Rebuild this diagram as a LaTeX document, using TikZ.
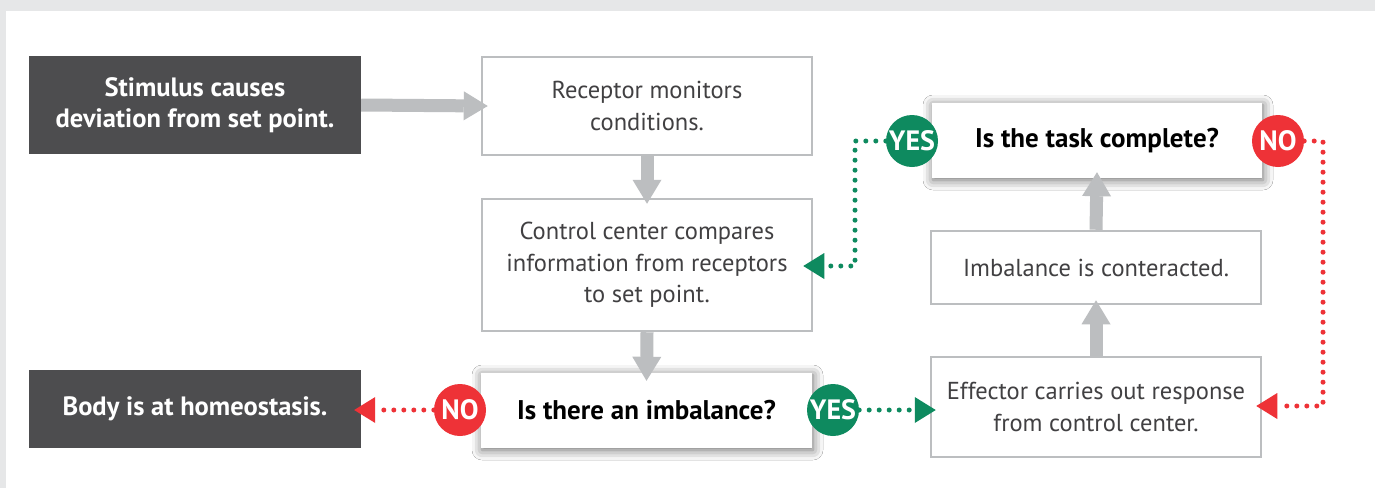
\documentclass[tikz,border=0pt]{standalone}
\usepackage{fontspec}
\setmainfont{PT Sans}
\usetikzlibrary{arrows.meta,shadows.blur}
\definecolor{darkbg}{HTML}{4D4D4F}
\definecolor{bordergray}{HTML}{BCBEC0}
\definecolor{txtgray}{HTML}{414042}
\definecolor{bandgray}{HTML}{E6E7E8}
\definecolor{yesgreen}{HTML}{0E8A5F}
\definecolor{nored}{HTML}{EE3237}
\begin{document}
\begin{tikzpicture}[x=1pt,y=-1pt,
  boxtext/.style={font=\fontsize{24.5}{31.5}\selectfont, align=center, inner sep=0pt},
  darkbox/.style={boxtext, fill=darkbg, text=white, font=\bfseries\fontsize{26.5}{31.5}\selectfont, minimum width=332pt},
  plainbox/.style={boxtext, draw=bordergray, line width=2.5pt, fill=white, text=txtgray, minimum width=330pt},
  qbox/.style={boxtext, fill=white, text=black, font=\bfseries\fontsize{27}{31}\selectfont, minimum width=331pt, minimum height=75pt,
    blur shadow={shadow xshift=1pt, shadow yshift=-2pt, shadow blur radius=10pt, shadow opacity=60}},
  badge/.style={circle, inner sep=0pt, minimum size=52pt, text=white, font=\bfseries\fontsize{28}{30}\selectfont},
  yesb/.style={badge, fill=yesgreen},
  nob/.style={badge, fill=nored},
  grayarrow/.style={draw=bordergray, line width=13pt, -{Triangle[length=24pt,width=29pt,line width=0pt]}},
  dotline/.style={line width=5pt, dash pattern=on 0pt off 10pt, line cap=round, -{Triangle[length=21pt,width=26pt,line width=0pt]}},
  greendot/.style={dotline, draw=yesgreen},
  reddot/.style={dotline, draw=nored}]
\useasboundingbox (0,0) rectangle (1375,488);
\fill[bandgray] (0,0) rectangle (1375,488);
\fill[white] (6,11) rectangle (1375,488);

% boxes
\node[darkbox, minimum height=98pt] (stim) at (195,105) {Stimulus causes\\deviation from set point.};
\node[plainbox, minimum height=98pt] (rec) at (647,106) {Receptor monitors\\conditions.};
\node[plainbox, minimum height=132pt] (ctl) at (647,265) {Control center compares\\information from receptors\\to set point.};
\node[qbox] (imb) at (646.5,410.5) {Is there an imbalance?};
\node[darkbox, minimum height=78pt] (body) at (195,409) {Body is at homeostasis.};
\node[qbox, minimum width=330pt] (task) at (1097,140.5) {Is the task complete?};
\node[plainbox, minimum height=73pt] (cnt) at (1096,267.5) {Imbalance is conteracted.};
\node[plainbox, minimum height=100pt] (eff) at (1096,407) {Effector carries out response\\from control center.};

% gray arrows
\draw[grayarrow] (stim.east) -- ([xshift=7pt]rec.west);
\draw[grayarrow] (rec.south) -- ([yshift=-6pt]ctl.north);
\draw[grayarrow] (ctl.south) -- ([yshift=-8pt]imb.north);
\draw[grayarrow] (eff.north) -- ([yshift=5pt]cnt.south);
\draw[grayarrow] (cnt.north) -- ([yshift=6pt]task.south);

% badges
\node[yesb] (yes1) at (912,141) {YES};
\node[nob] (no1) at (1278,141) {NO};
\node[nob] (no2) at (460,410) {NO};
\node[yesb] (yes2) at (833,410) {YES};

% dotted connectors
\coordinate (g1) at (855,141);
\coordinate (g2) at (855,266);
\coordinate (r1) at (1323,141);
\coordinate (r2) at (1323,406);
\draw[greendot] (yes1.west) -- (g1) -- (g2) -- ([xshift=-10pt]ctl.east |- g2);
\draw[reddot] (no1.east) -- (r1) -- (r2) -- ([xshift=-6pt]eff.east |- r2);
\draw[reddot] (no2.west) -- ([xshift=-7pt]body.east |- no2);
\draw[greendot] (yes2.east) -- ([xshift=6pt]eff.west |- yes2);
\end{tikzpicture}
\end{document}
